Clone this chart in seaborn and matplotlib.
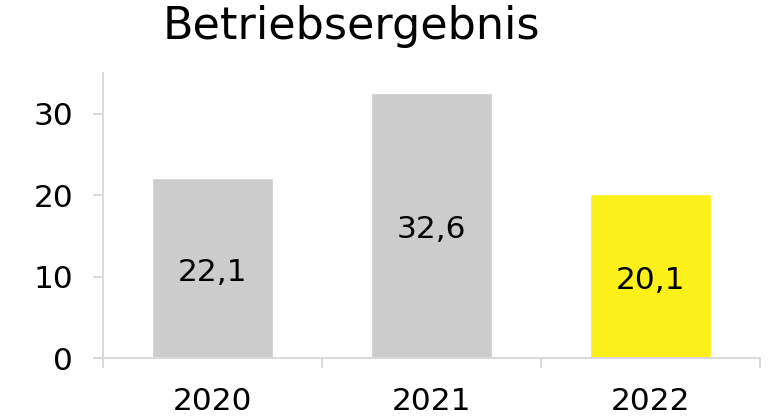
import matplotlib
matplotlib.use("Agg")
import matplotlib.pyplot as plt
import seaborn as sns
import pandas as pd
import numpy as np

years = ["2020", "2021", "2022"]
values = [22.1, 32.6, 20.1]
labels = ["22,1", "32,6", "20,1"]
colors = ["#cccccc", "#cccccc", "#fbf018"]
title = "Betriebsergebnis"

sns.set_theme(style="white")
plt.rcParams['font.family'] = ['DejaVu Sans']

df = pd.DataFrame({"year": years, "value": values})

fig = plt.figure(figsize=(7.7, 4.19), dpi=100)
ax = fig.add_axes([103/770, 1-358/419, (760-103)/770, (358-73)/419])

sns.barplot(data=df, x="year", y="value", hue="year", palette=colors,
            width=0.55, legend=False, ax=ax, saturation=1)

ax.set_xlim(-0.5, 2.5)
ax.set_ylim(0, 35)
ax.set_yticks([0, 10, 20, 30])
ax.set_xlabel("")
ax.set_ylabel("")

spine_c = "#d9d9d9"
for s in ["top", "right"]:
    ax.spines[s].set_visible(False)
for s in ["left", "bottom"]:
    ax.spines[s].set_color(spine_c)
    ax.spines[s].set_linewidth(1.4)

ax.tick_params(axis="y", which="major", length=7.5, width=1.4, color=spine_c,
               labelsize=22.5, pad=14, left=True, labelcolor="black")
ax.set_xticks(np.arange(-0.5, 3.0, 1.0), minor=True)
ax.tick_params(axis="x", which="minor", length=7.5, width=1.4, color=spine_c, bottom=True)
ax.tick_params(axis="x", which="major", length=0, labelsize=22.5, pad=21, labelcolor="black")

for i, c in enumerate(ax.containers):
    texts = ax.bar_label(c, labels=[labels[i]], label_type="center", fontsize=22.5, color="black")
    for t in texts:
        t.xyann = (0, -3)

fig.text(351.5/770, 1-27/419, title, ha="center", va="center", fontsize=32, color="black")

fig.savefig("out.png", dpi=100)
